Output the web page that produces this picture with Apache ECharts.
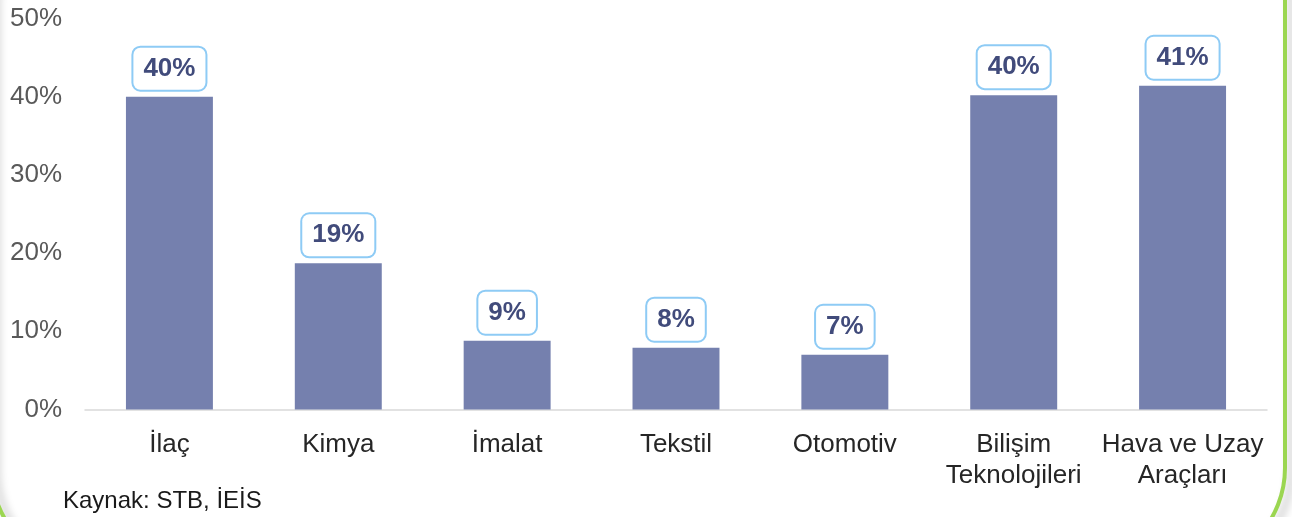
<!DOCTYPE html>
<html>
<head>
<meta charset="utf-8">
<script src="https://cdn.jsdelivr.net/npm/echarts@6/dist/echarts.min.js"></script>
<style>
  html, body { margin: 0; padding: 0; background: #ffffff; }
  #chart { width: 1292px; height: 517px; }
</style>
</head>
<body>
<div id="chart"></div>
<script>
// Sectors and their share (%)
const categories = ['İlaç', 'Kimya', 'İmalat', 'Tekstil', 'Otomotiv', 'Bilişim\nTeknolojileri', 'Hava ve Uzay\nAraçları'];
const shares = [40.0, 18.7, 8.8, 7.9, 7.0, 40.2, 41.4];
const yTicks = { min: 0, max: 50, interval: 10 };
const sourceNote = 'Kaynak: STB, İEİS';

const FONT = '"Liberation Sans", Arial, sans-serif';
const chart = echarts.init(document.getElementById('chart'), null, { renderer: 'canvas' });

chart.setOption({
  backgroundColor: '#ffffff',
  animation: false,
  grid: { left: 85, right: 25, top: 18.5, bottom: 107.5, containLabel: false },
  xAxis: {
    type: 'category',
    data: categories,
    axisLine: { show: true, lineStyle: { color: '#d9d9d9', width: 1.5 } },
    axisTick: { show: false },
    axisLabel: {
      interval: 0,
      margin: 20,
      color: '#262626',
      fontSize: 26,
      lineHeight: 31,
      fontFamily: FONT
    }
  },
  yAxis: {
    type: 'value',
    min: yTicks.min,
    max: yTicks.max,
    interval: yTicks.interval,
    axisLine: { show: false },
    axisTick: { show: false },
    splitLine: { show: false },
    axisLabel: {
      formatter: '{value}%',
      margin: 23,
      color: '#595959',
      fontSize: 26,
      fontFamily: FONT
    }
  },
  series: [{
    type: 'bar',
    data: shares,
    barWidth: '51.5%',
    itemStyle: { color: '#7580AE' },
    label: {
      show: true,
      position: 'top',
      distance: 7,
      formatter: p => Math.round(p.value) + '%',
      backgroundColor: '#ffffff',
      borderColor: '#8ECBF5',
      borderWidth: 2,
      borderRadius: 7,
      padding: [8, 10, 8, 10],
      lineHeight: 26,
      fontSize: 26,
      fontWeight: 'bold',
      color: '#414B7B',
      fontFamily: FONT
    }
  }],
  graphic: [
    {
      // rounded green frame around the panel
      type: 'rect',
      silent: true,
      z: 100,
      shape: { x: -9, y: -100, width: 1294, height: 668, r: 100 },
      style: {
        fill: 'none',
        stroke: '#9BD651',
        lineWidth: 4,
        shadowColor: 'rgba(0,0,0,0.28)',
        shadowBlur: 8,
        shadowOffsetX: 6,
        shadowOffsetY: 4
      }
    },
    {
      type: 'text',
      silent: true,
      left: 63,
      top: 489,
      style: {
        text: sourceNote,
        fontSize: 24,
        fill: '#1a1a1a',
        fontFamily: FONT
      }
    }
  ]
});
</script>
</body>
</html>
